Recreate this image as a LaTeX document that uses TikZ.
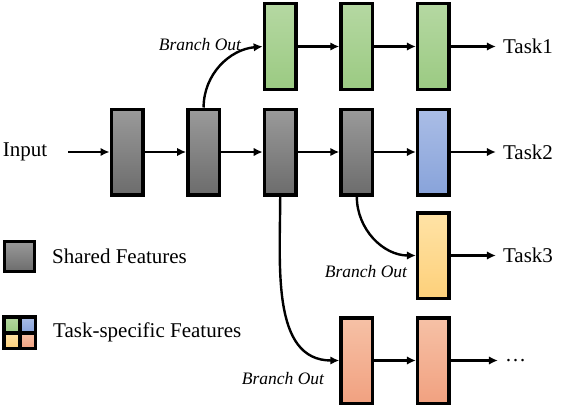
\documentclass[tikz,border=0pt]{standalone}
\usepackage{fontspec}
\setmainfont{Liberation Serif}
\usepackage{tikz}
\usetikzlibrary{positioning}
\usetikzlibrary{arrows.meta}
\usepackage{xcolor}
\definecolor{greytop}{HTML}{9A9A9A}
\definecolor{greybot}{HTML}{6C6C6C}
\definecolor{greentop}{HTML}{B5D8A2}
\definecolor{greenbot}{HTML}{9BCA82}
\definecolor{bluetop}{HTML}{AABDE6}
\definecolor{bluebot}{HTML}{88A3DA}
\definecolor{yellowtop}{HTML}{FFE3A6}
\definecolor{yellowbot}{HTML}{FDD07A}
\definecolor{orangetop}{HTML}{F6C1A6}
\definecolor{orangebot}{HTML}{F1A180}

\begin{document}
\begin{tikzpicture}[x=1pt, y=1pt, node distance=76.6pt,
  feat/.style = {draw, line width=3.5pt, minimum width=31.5pt, minimum height=85.5pt, inner sep=0pt},
  shared/.style = {feat, top color=greytop, bottom color=greybot},
  green/.style = {feat, top color=greentop, bottom color=greenbot},
  blue/.style = {feat, top color=bluetop, bottom color=bluebot},
  yellow/.style = {feat, top color=yellowtop, bottom color=yellowbot},
  orange/.style = {feat, top color=orangetop, bottom color=orangebot},
  cell/.style = {draw, line width=3.5pt, minimum size=15.5pt, inner sep=0pt},
  flow/.style = {-{Latex[length=9pt,width=8.5pt]}, line width=2.4pt},
  lab/.style = {font=\fontsize{21}{25}\selectfont, inner sep=7pt},
  brn/.style = {font=\fontsize{17.5}{20}\selectfont\itshape, inner sep=0pt}]
\useasboundingbox (0,0) rectangle (564,408);

% shared trunk
\node[shared] (s1) at (127,256) {};
\node[shared] (s2) [right of=s1] {};
\node[shared] (s3) [right of=s2] {};
\node[shared] (s4) [right of=s3] {};
\node[blue] (b1) [right of=s4] {};

% task branches
\node[green] (g1) [above of=s3, node distance=105.5pt] {};
\node[green] (g2) [right of=g1] {};
\node[green] (g3) [right of=g2] {};
\node[yellow] (y1) [below of=b1, node distance=103.5pt] {};
\node[orange] (o1) [below of=s4, node distance=208.5pt] {};
\node[orange] (o2) [right of=o1] {};

% labels
\node[lab] (in) [left of=s1, node distance=102pt] {Input};
\node[lab] (t1) [right=45pt of g3] {Task1};
\node[lab] (t2) [right=45pt of b1] {Task2};
\node[lab] (t3) [right=45pt of y1] {Task3};
\node[lab] (t4) [right=47pt of o2] {\ldots};
\node[brn] (br1) at (200,363) {Branch Out};
\node[brn] (br2) at (366,136) {Branch Out};
\node[brn] (br3) at (283,29) {Branch Out};

\path (in) edge [flow, shorten <=14pt] (s1);
\path (s1) edge [flow] (s2);
\path (s2) edge [flow] (s3);
\path (s3) edge [flow] (s4);
\path (s4) edge [flow] (b1);
\path (b1) edge [flow] (t2);
\path (g1) edge [flow] (g2);
\path (g2) edge [flow] (g3);
\path (g3) edge [flow] (t1);
\path (y1) edge [flow] (t3);
\path (o1) edge [flow] (o2);
\path (o2) edge [flow] (t4);
\draw[flow] (s2.north) to[out=90, in=185] (g1.west);
\draw[flow] (s4.south) to[out=-90, in=180] (y1.west);
\draw[flow] (s3.south) to[out=-90, in=180] (o1.west);

% legend
\node[shared, minimum width=30pt, minimum height=30pt] (leg1) at (19.5,151.5) {};
\node[lab, inner sep=0pt, anchor=west] (leg1t) at (52,151.5) {Shared Features};
\node[cell, top color=greentop, bottom color=greenbot] (lg) at (11.5,83.5) {};
\node[cell, top color=bluetop, bottom color=bluebot] (lb) at (27.5,83.5) {};
\node[cell, top color=yellowtop, bottom color=yellowbot] (ly) at (11.5,67.5) {};
\node[cell, top color=orangetop, bottom color=orangebot] (lo) at (27.5,67.5) {};
\node[lab, inner sep=0pt, anchor=west] (leg2t) at (53,75.5) {Task-specific Features};
\end{tikzpicture}
\end{document}
